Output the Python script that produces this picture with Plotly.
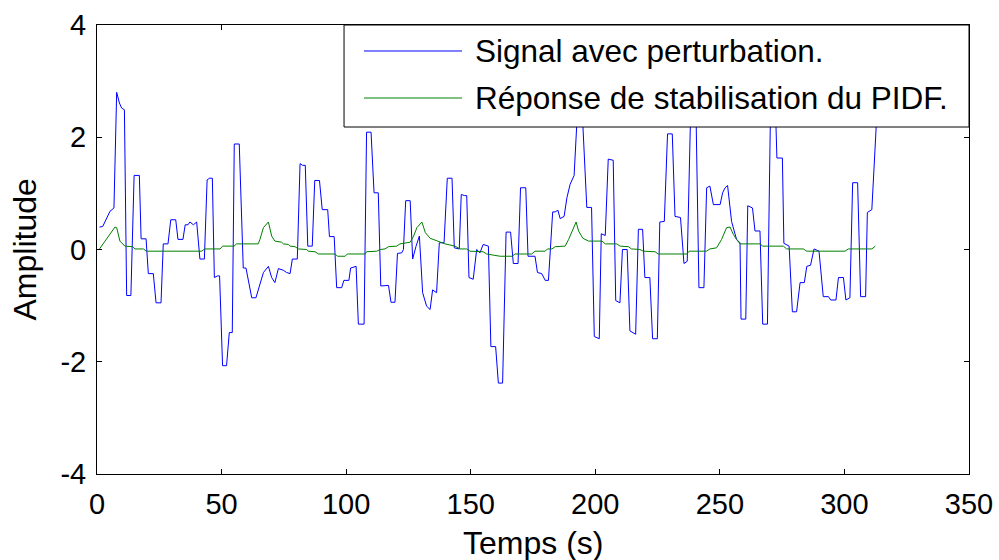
import plotly.graph_objects as go

# Signal avec perturbation (breakpoints of the sampled signal)
t_signal = [1, 2.3, 5.2, 6.8, 7.9, 9.0, 9.9, 11.0, 11.9, 13.6, 14.9, 17.0, 17.7, 19.7, 20.6, 22.6,
            23.7, 25.7, 26.6, 28.5, 29.6, 31.6, 32.5, 34.5, 35.4, 36.5, 37.3, 38.7, 40.0, 41.3, 43.1,
            44.2, 45.1, 46.3, 47.1, 48.4, 49.2, 50.4, 52.0, 53.1, 54.3, 55.1, 57.1, 58.7, 59.8, 62.1,
            63.8, 65.4, 66.8, 68.8, 70.1, 71.4, 72.8, 74.8, 76.1, 77.5, 78.4, 80.4, 81.5, 82.5, 83.6,
            84.6, 86.4, 87.4, 89.3, 90.4, 92.6, 93.3, 95.2, 96.2, 98.2, 99.1, 101.1, 101.8, 104.0,
            104.9, 107.2, 108.2, 110.0, 111.2, 112.9, 113.9, 117.0, 118.0, 119.6, 120.6, 122.3, 123.0,
            123.9, 125.7, 126.7, 128.0, 129.4, 130.7, 132.3, 133.7, 134.7, 136.3, 137.4, 139.3, 140.6,
            142.5, 143.4, 145.4, 146.2, 147.6, 148.4, 149.3, 151.0, 152.4, 153.7, 155.0, 157.1, 158.1,
            160.0, 161.1, 162.8, 164.2, 166.0, 167.1, 169.0, 170.0, 172.1, 173.0, 175.8, 176.8, 178.5,
            179.9, 181.2, 182.9, 183.9, 185.0, 185.9, 187.5, 188.6, 189.9, 191.5, 193.0, 194.6, 196.6,
            198.5, 199.6, 201.6, 202.4, 204.0, 205.2, 206.3, 207.2, 208.2, 209.9, 210.9, 212.8, 213.9,
            215.2, 216.2, 217.3, 219.0, 219.9, 221.9, 223.0, 224.9, 225.9, 227.7, 229.0, 230.9, 232.0,
            234.2, 235.6, 236.9, 238.3, 240.4, 241.6, 243.6, 244.7, 246.0, 247.4, 250.1, 251.1, 252.1,
            253.1, 254.7, 256.7, 258.1, 258.5, 260.4, 261.2, 263.1, 264.1, 266.1, 267.2, 269.1, 270.4,
            272.2, 272.9, 275.1, 275.7, 277.8, 279.1, 280.8, 282.2, 283.9, 284.9, 286.4, 287.8, 289.8,
            291.5, 293.6, 294.5, 296.6, 297.6, 299.6, 300.6, 302.2, 303.3, 305.3, 306.5, 308.5, 309.2,
            311.0, 313.0]
y_signal = [0.40, 0.41, 0.68, 0.74, 2.80, 2.61, 2.52, 2.49, -0.82, -0.82, 1.32, 1.32, 0.19, 0.19, -0.43, -0.43,
            -0.95, -0.95, 0.10, 0.10, 0.53, 0.53, 0.18, 0.18, 0.44, 0.44, 0.49, 0.44, 0.49, -0.17, -0.17,
            1.24, 1.27, 1.27, -0.50, -0.47, -0.47, -2.07, -2.07, -1.48, -1.48, 1.88, 1.88, -0.33, -0.33, -0.86,
            -0.86, -0.62, -0.41, -0.30, -0.50, -0.59, -0.34, -0.37, -0.41, -0.43, -0.17, -0.17, 1.53, 1.50, 1.50,
            0.06, 0.06, 1.23, 1.23, 0.71, 0.71, 0.23, 0.23, -0.68, -0.68, -0.55, -0.55, -0.33, -0.30,
            -1.33, -1.33, 2.09, 2.09, 1.01, 1.01, -0.65, -0.64, -0.94, -0.94, -0.07, -0.06, 0.0,
            0.87, 0.87, -0.17, 0.05, 0.24, -0.77, -1.01, -1.07, -0.72, -0.77, 0.12, 0.12, 1.27,
            1.27, 0.03, 0.01, 0.98, 0.96, 0.96, -0.50, -0.53, 0.0, -0.06, 0.09, 0.06, -1.73,
            -1.73, -2.38, -2.38, 0.31, 0.31, -0.25, -0.25, 1.10, 1.10, -0.12, -0.12, -0.41, -0.43,
            -0.55, -0.55, 0.67, 0.67, 0.70, 0.55, 0.59, 0.92, 1.16, 1.32, 2.60, 2.60, 0.75,
            0.75, -1.55, -1.59, 0.28, 0.25, 1.61, 1.60, 1.59, -0.91, -0.95, 0.0, 0.0, -1.45,
            -1.48, -1.51, 0.36, 0.36, -0.50, -0.50, -1.59, -1.59, 0.49, 0.50, 2.06, 2.06, 0.59,
            0.57, -0.25, -0.21, 2.50, 2.50, -0.68, -0.68, 1.10, 1.13, 0.80, 0.80, 1.01, 1.10,
            1.14, 0.50, 0.18, 0.12, -1.24, -1.24, 0.78, 0.74, 0.33, 0.33, -1.33, -1.33, 2.70,
            2.70, 1.63, 1.63, 0.11, 0.06, -1.11, -1.11, -0.59, -0.59, -0.30, -0.28, 0.01, -0.03,
            -0.84, -0.84, -0.90, -0.90, -0.50, -0.50, -0.90, -0.86, 1.19, 1.19, -0.84, -0.84, 0.66,
            0.71, 2.40]

# Réponse de stabilisation du PIDF
t_pidf = [1, 7.2, 7.9, 9.2, 11.2, 14.3, 15.2, 18.6, 19.9, 42.0, 43.3, 49.4, 50.4, 55.0, 56.0, 64.7,
          65.4, 66.8, 68.8, 70.1, 71.4, 74.1, 74.8, 76.8, 77.5, 79.5, 80.8, 84.2, 84.8, 87.5, 88.9,
          95.6, 96.5, 99.6, 100.5, 107.6, 108.2, 112.3, 113.6, 115.6, 117.0, 120.3, 121.6, 125.7,
          127.1, 128.4, 130.4, 131.8, 133.7, 136.3, 139.7, 143.7, 145.7, 148.4, 149.7, 155.0, 156.4,
          161.8, 166.8, 167.7, 174.5, 175.8, 179.9, 180.8, 182.6, 183.9, 187.9, 189.3, 191.0, 192.3,
          193.3, 195.0, 197.3, 202.7, 204.0, 208.6, 210.0, 213.3, 214.6, 217.9, 219.3, 224.0, 225.3,
          236.7, 237.7, 244.7, 246.0, 248.7, 250.7, 252.7, 254.1, 255.4, 256.7, 258.1, 266.1, 267.2,
          275.5, 276.8, 283.5, 284.9, 300.2, 301.6, 311.0, 312.4]
y_pidf = [0.01, 0.40, 0.39, 0.15, 0.06, 0.05, 0.01, 0.01, -0.03, -0.03, 0.01, 0.01, 0.06, 0.06, 0.10, 0.10,
          0.18, 0.39, 0.49, 0.24, 0.15, 0.13, 0.10, 0.09, 0.06, 0.05, 0.01, 0.0, -0.03, -0.04, -0.08,
          -0.08, -0.12, -0.12, -0.08, -0.08, -0.04, -0.03, 0.0, 0.01, 0.05, 0.06, 0.10, 0.13,
          0.24, 0.39, 0.49, 0.30, 0.20, 0.16, 0.10, 0.06, 0.01, 0.01, -0.03, -0.04, -0.08,
          -0.12, -0.12, -0.08, -0.08, -0.03, -0.03, 0.01, 0.01, 0.05, 0.06, 0.18, 0.36, 0.49,
          0.33, 0.20, 0.15, 0.15, 0.10, 0.10, 0.06, 0.05, 0.01, 0.0, -0.03, -0.04, -0.08,
          -0.08, -0.03, -0.03, 0.01, 0.03, 0.18, 0.39, 0.40, 0.27, 0.18, 0.10, 0.10, 0.06,
          0.06, 0.01, 0.01, -0.03, -0.03, 0.01, 0.01, 0.06]

x_ticks = [0, 50, 100, 150, 200, 250, 300, 350]
y_ticks = [-4, -2, 0, 2, 4]
series_names = ["Signal avec perturbation.", "Réponse de stabilisation du PIDF."]
series_colors = ["#0000ff", "#008000"]
x_title = "Temps (s)"
y_title = "Amplitude"

FONT = "Arial, Liberation Sans, sans-serif"
TICK_SIZE = 29
LABEL_SIZE = 32
LEGEND_SIZE = 31.5

fig = go.Figure()
fig.add_trace(go.Scatter(x=t_signal, y=y_signal, mode="lines", name=series_names[0],
                         line=dict(color=series_colors[0], width=1), showlegend=False))
fig.add_trace(go.Scatter(x=t_pidf, y=y_pidf, mode="lines", name=series_names[1],
                         line=dict(color=series_colors[1], width=1), showlegend=False))

axis_common = dict(
    showline=True, linecolor="black", linewidth=1, mirror="ticks",
    ticks="inside", ticklen=5, tickcolor="black", tickwidth=1,
    showgrid=False, zeroline=False, automargin=False,
    tickfont=dict(family=FONT, size=TICK_SIZE, color="black"),
)
fig.update_xaxes(range=[0, 350], tickvals=x_ticks, ticktext=[str(v) for v in x_ticks],
                 ticklabelstandoff=4, **axis_common)
fig.update_yaxes(range=[-4, 4], tickvals=y_ticks, ticktext=[str(v) for v in y_ticks],
                 ticklabelstandoff=4, **axis_common)

# Axis titles placed in paper coordinates
fig.add_annotation(xref="paper", yref="paper", x=0.5, y=-0.1537, xanchor="center", yanchor="middle",
                   text=x_title, showarrow=False,
                   font=dict(family=FONT, size=LABEL_SIZE, color="black"))
fig.add_annotation(xref="paper", yref="paper", x=-0.0826, y=0.5, xanchor="center", yanchor="middle",
                   text=y_title, textangle=-90, showarrow=False,
                   font=dict(family=FONT, size=LABEL_SIZE, color="black"))

# Legend box drawn in paper coordinates, opaque so it hides the lines behind it
box_x0, box_x1, box_y0, box_y1 = 0.2833, 1.0, 0.7728, 1.0
fig.add_shape(type="rect", xref="paper", yref="paper", x0=box_x0, x1=box_x1, y0=box_y0, y1=box_y1,
              fillcolor="white", line=dict(color="black", width=1), layer="above")
row_y = [0.9421, 0.8374]
for name, color, yy in zip(series_names, series_colors, row_y):
    fig.add_shape(type="line", xref="paper", yref="paper", x0=0.3062, x1=0.4186, y0=yy, y1=yy,
                  line=dict(color=color, width=1), layer="above")
    fig.add_annotation(xref="paper", yref="paper", x=0.4312, y=yy, xanchor="left", yanchor="middle",
                       text=name, showarrow=False,
                       font=dict(family=FONT, size=LEGEND_SIZE, color="black"))

fig.update_layout(
    width=999, height=560,
    margin=dict(l=97, r=30, t=25, b=86),
    plot_bgcolor="white", paper_bgcolor="white",
    showlegend=False,
)

fig.write_html("out.html")
